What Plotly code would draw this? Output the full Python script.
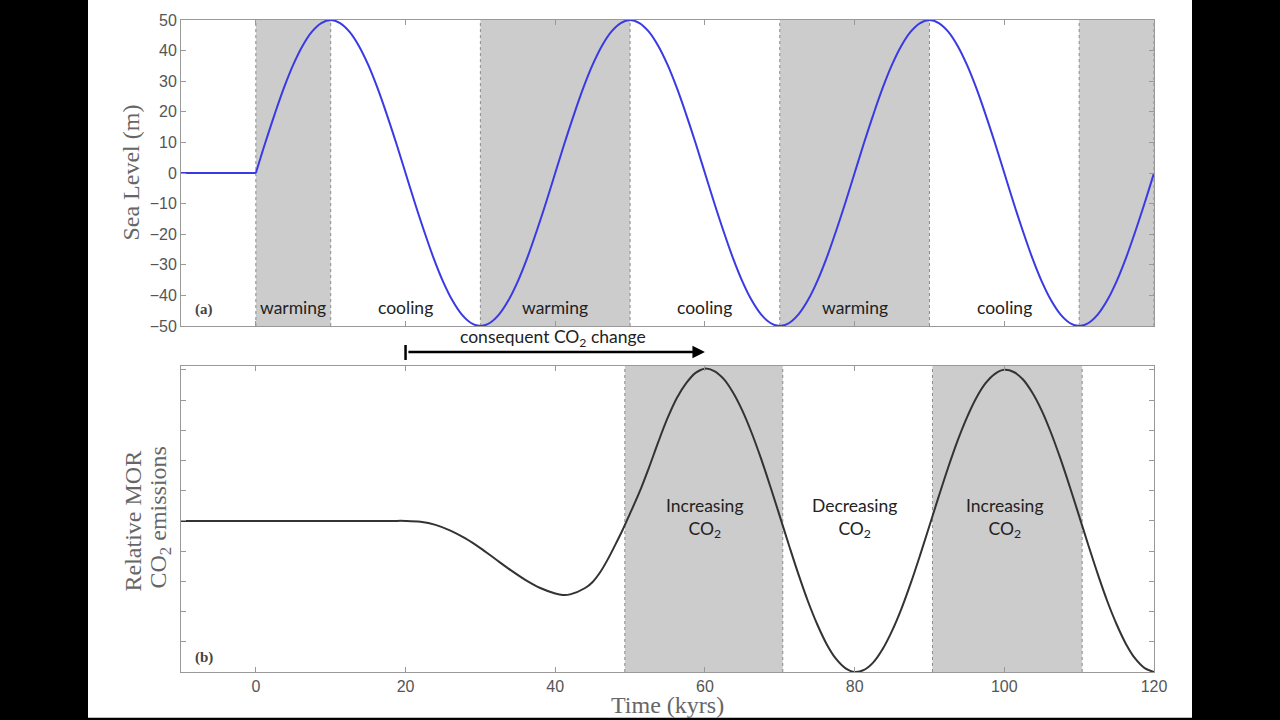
import plotly.graph_objects as go

# sea level (m)
sea_flat_t = [-10, 0]
sea_flat_m = [0, 0]
sea_t = [0, 1.25, 2.5, 3.75, 5, 6.25, 7.5, 8.75, 10, 11.25, 12.5, 13.75, 15, 16.25, 17.5, 18.75,
         20, 21.25, 22.5, 23.75, 25, 26.25, 27.5, 28.75, 30, 31.25, 32.5, 33.75, 35, 36.25, 37.5, 38.75,
         40, 41.25, 42.5, 43.75, 45, 46.25, 47.5, 48.75, 50, 51.25, 52.5, 53.75, 55, 56.25, 57.5, 58.75,
         60, 61.25, 62.5, 63.75, 65, 66.25, 67.5, 68.75, 70, 71.25, 72.5, 73.75, 75, 76.25, 77.5, 78.75,
         80, 81.25, 82.5, 83.75, 85, 86.25, 87.5, 88.75, 90, 91.25, 92.5, 93.75, 95, 96.25, 97.5, 98.75,
         100, 101.25, 102.5, 103.75, 105, 106.25, 107.5, 108.75, 110, 111.25, 112.5, 113.75, 115, 116.25, 117.5, 118.75,
         120]
sea_m = [0, 9.8, 19.1, 27.8, 35.4, 41.6, 46.2, 49.0, 50, 49.0, 46.2, 41.6, 35.4, 27.8, 19.1, 9.8,
         0, -9.8, -19.1, -27.8, -35.4, -41.6, -46.2, -49.0, -50, -49.0, -46.2, -41.6, -35.4, -27.8, -19.1, -9.8,
         0, 9.8, 19.1, 27.8, 35.4, 41.6, 46.2, 49.0, 50, 49.0, 46.2, 41.6, 35.4, 27.8, 19.1, 9.8,
         0, -9.8, -19.1, -27.8, -35.4, -41.6, -46.2, -49.0, -50, -49.0, -46.2, -41.6, -35.4, -27.8, -19.1, -9.8,
         0, 9.8, 19.1, 27.8, 35.4, 41.6, 46.2, 49.0, 50, 49.0, 46.2, 41.6, 35.4, 27.8, 19.1, 9.8,
         0, -9.8, -19.1, -27.8, -35.4, -41.6, -46.2, -49.0, -50, -49.0, -46.2, -41.6, -35.4, -27.8, -19.1, -9.8,
         0]

# relative MOR CO2 emissions
mor_t = [-10, 0, 10, 18, 20, 22, 24, 26, 28, 30, 32, 34, 36, 38, 40, 41, 42, 44, 45, 46, 47, 48, 49,
         50, 51.25, 52.5, 53.75, 55, 56.25, 57.5, 58.75, 60, 61.25, 62.5, 63.75, 65, 66.25, 67.5, 68.75,
         70, 71.25, 72.5, 73.75, 75, 76.25, 77.5, 78.75, 80, 81.25, 82.5, 83.75, 85, 86.25, 87.5, 88.75,
         90, 91.25, 92.5, 93.75, 95, 96.25, 97.5, 98.75, 100, 101.25, 102.5, 103.75, 105, 106.25, 107.5, 108.75,
         110, 111.25, 112.5, 113.75, 115, 116.25, 117.5, 118.75, 120]
mor_v = [5, 5, 5, 5, 5, 4.97, 4.87, 4.68, 4.42, 4.1, 3.74, 3.38, 3.05, 2.78, 2.6, 2.55, 2.57, 2.78, 2.98, 3.3, 3.72, 4.2, 4.7,
         5.25, 5.95, 6.75, 7.6, 8.4, 9.07, 9.56, 9.9, 10.04, 9.96, 9.7, 9.25, 8.65, 7.91, 7.06, 6.13,
         5.16, 4.18, 3.23, 2.35, 1.58, 0.93, 0.44, 0.13, 0.0, 0.07, 0.32, 0.76, 1.36, 2.09, 2.94, 3.87,
         4.84, 5.82, 6.77, 7.65, 8.42, 9.07, 9.56, 9.87, 10.0, 9.93, 9.68, 9.24, 8.65, 7.91, 7.06, 6.13,
         5.16, 4.18, 3.23, 2.35, 1.58, 0.93, 0.44, 0.13, 0.0]

warm_start = [0, 30, 70, 110]
warm_end = [10, 50, 90, 120]
phase_x = [5, 20, 40, 60, 80, 100]
phase_lbl = ['warming', 'cooling', 'warming', 'cooling', 'warming', 'cooling']

co2_up_start = [49.3, 90.4]
co2_up_end = [70.4, 110.4]
co2_x = [60, 80, 100]
co2_lbl = ['Increasing<br>CO<sub>2</sub>', 'Decreasing<br>CO<sub>2</sub>', 'Increasing<br>CO<sub>2</sub>']

x_ticks = [0, 20, 40, 60, 80, 100, 120]

W, H = 1280, 720
ML, MR, MT, MB = 181, 126, 18, 48
PW, PH = W - ML - MR, H - MT - MB


def px(x):
    return (x - ML) / PW


def py(y):
    return (H - MB - y) / PH


AXC = '#999999'
TICKF = dict(family='Liberation Sans', size=16, color='#555555')
SERIF = 'Liberation Serif'
LBLF = dict(family='Lato', size=17.5, color='#222222')

fig = go.Figure()
fig.add_trace(go.Scatter(x=sea_flat_t, y=sea_flat_m, mode='lines',
                         line=dict(color='#3a3ae4', width=2), xaxis='x', yaxis='y'))
fig.add_trace(go.Scatter(x=sea_t, y=sea_m, mode='lines',
                         line=dict(color='#3a3ae4', width=2, shape='spline', smoothing=1.0),
                         xaxis='x', yaxis='y'))
fig.add_trace(go.Scatter(x=mor_t, y=mor_v, mode='lines',
                         line=dict(color='#333333', width=2, shape='spline', smoothing=1.0),
                         xaxis='x2', yaxis='y2'))

shapes = []
for a, b in zip(warm_start, warm_end):
    shapes.append(dict(type='rect', xref='x', yref='y domain', x0=a, x1=b, y0=0, y1=1,
                       fillcolor='#cccccc', line_width=0, layer='below'))
    for e in (a, b):
        shapes.append(dict(type='line', xref='x', yref='y domain', x0=e, x1=e, y0=0, y1=1,
                           line=dict(color='#8a8a8a', width=1, dash='dot'), layer='below'))
for a, b in zip(co2_up_start, co2_up_end):
    shapes.append(dict(type='rect', xref='x2', yref='y2 domain', x0=a, x1=b, y0=0, y1=1,
                       fillcolor='#cccccc', line_width=0, layer='below'))
    for e in (a, b):
        shapes.append(dict(type='line', xref='x2', yref='y2 domain', x0=e, x1=e, y0=0, y1=1,
                           line=dict(color='#8a8a8a', width=1, dash='dot'), layer='below'))

# arrow for the consequent CO2 change
shapes.append(dict(type='line', xref='x2', yref='paper', x0=20, x1=20, y0=py(344), y1=py(359),
                   line=dict(color='black', width=2.5)))

# black frame around the screenshot
shapes.append(dict(type='rect', xref='paper', yref='paper', x0=px(-20), x1=px(88), y0=-0.3, y1=1.3,
                   fillcolor='black', line_width=0, layer='above'))
shapes.append(dict(type='rect', xref='paper', yref='paper', x0=px(1192), x1=px(1300), y0=-0.3, y1=1.3,
                   fillcolor='black', line_width=0, layer='above'))
shapes.append(dict(type='rect', xref='paper', yref='paper', x0=-0.3, x1=1.3, y0=py(740), y1=py(718),
                   fillcolor='black', line_width=0, layer='above'))

annotations = []
for x, t in zip(phase_x, phase_lbl):
    annotations.append(dict(x=x, y=py(306), xref='x', yref='paper', text=t, showarrow=False,
                            font=LBLF, xanchor='center', yanchor='middle'))
for x, t in zip(co2_x, co2_lbl):
    annotations.append(dict(x=x, y=py(518), xref='x2', yref='paper', text=t, showarrow=False,
                            font=LBLF, xanchor='center', yanchor='middle'))
annotations += [
    dict(x=60, y=py(351), xref='x2', yref='paper', ax=-298, ay=0, text='', showarrow=True,
         arrowhead=2, arrowsize=1, arrowwidth=2.5, arrowcolor='black'),
    dict(x=39.7, y=py(337), xref='x2', yref='paper', text='consequent CO<sub>2</sub> change',
         showarrow=False, font=LBLF, xanchor='center', yanchor='middle'),
    dict(x=px(193), y=py(308), xref='paper', yref='paper', text='<b>(a)</b>', showarrow=False,
         font=dict(family=SERIF, size=15, color='#444444'), xanchor='left', yanchor='middle'),
    dict(x=px(193), y=py(657), xref='paper', yref='paper', text='<b>(b)</b>', showarrow=False,
         font=dict(family=SERIF, size=15, color='#444444'), xanchor='left', yanchor='middle'),
    dict(x=px(131), y=py(171), xref='paper', yref='paper', text='Sea Level (m)', textangle=-90,
         showarrow=False, font=dict(family=SERIF, size=24, color='#666666'),
         xanchor='center', yanchor='middle'),
    dict(x=px(133), y=py(521), xref='paper', yref='paper', text='Relative MOR', textangle=-90,
         showarrow=False, font=dict(family=SERIF, size=24, color='#666666'),
         xanchor='center', yanchor='middle'),
    dict(x=px(160), y=py(517), xref='paper', yref='paper', text='CO<sub>2</sub> emissions', textangle=-90,
         showarrow=False, font=dict(family=SERIF, size=24, color='#666666'),
         xanchor='center', yanchor='middle'),
    dict(x=0.5, y=py(705), xref='paper', yref='paper', text='Time (kyrs)',
         showarrow=False, font=dict(family=SERIF, size=24, color='#666666'),
         xanchor='center', yanchor='middle'),
]

axis_common = dict(showline=True, linecolor=AXC, linewidth=1, mirror='ticks', ticks='inside',
                   ticklen=5, tickcolor=AXC, showgrid=False, zeroline=False, tickfont=TICKF)

fig.update_layout(
    width=W, height=H,
    margin=dict(l=ML, r=MR, t=MT, b=MB),
    paper_bgcolor='white', plot_bgcolor='white',
    showlegend=False,
    xaxis=dict(anchor='y', domain=[0, 1], range=[-10, 120], tickvals=x_ticks,
               showticklabels=False, **axis_common),
    yaxis=dict(anchor='x', domain=[py(325), 1], range=[-50, 50], dtick=10, **axis_common),
    xaxis2=dict(anchor='y2', domain=[0, 1], range=[-10, 120], tickvals=x_ticks, **axis_common),
    yaxis2=dict(anchor='x2', domain=[0, py(365)], range=[0, 10.13], tickvals=list(range(11)),
                showticklabels=False, **axis_common),
    shapes=shapes,
    annotations=annotations,
)

# the page body keeps a default margin; drop it so the figure sits at the window corner
fig.write_html('out.html', config={'displayModeBar': False},
               post_script="document.body.style.margin='0';document.body.style.overflow='hidden';")
